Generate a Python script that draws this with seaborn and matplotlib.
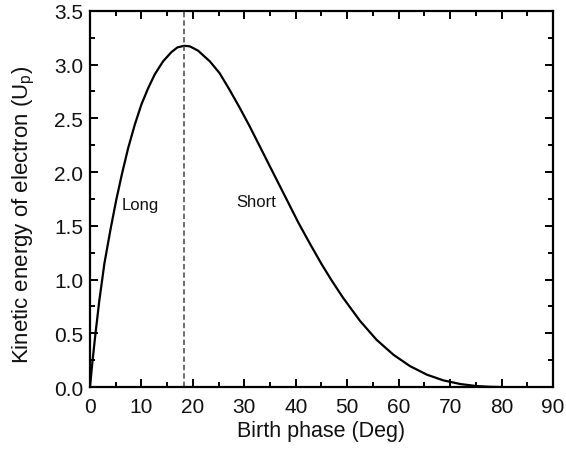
import matplotlib
matplotlib.use("Agg")
import matplotlib.pyplot as plt
from matplotlib.ticker import MultipleLocator, FormatStrFormatter
import pandas as pd
import seaborn as sns

# Returning-electron kinetic energy vs. ionisation (birth) phase
birth_phase_deg = [0, 0.4, 1.0, 1.8, 2.8, 4.0, 5.1, 6.2, 7.4, 8.7, 10.0, 11.3,
                   12.6, 14.2, 15.8, 17.0, 18.3, 19.4, 21.0, 23.3, 25.2, 27.2,
                   29.2, 31.1, 33.0, 35.0, 36.8, 38.6, 40.5, 42.8, 45.0, 47.0,
                   49.2, 52.5, 55.7, 59.0, 62.2, 65.5, 68.7, 72.0, 75.2, 78.0, 80.0]
kinetic_energy_up = [0, 0.2, 0.47, 0.8, 1.15, 1.47, 1.74, 1.98, 2.22, 2.44, 2.63, 2.78,
                     2.91, 3.03, 3.115, 3.16, 3.175, 3.17, 3.13, 3.03, 2.92, 2.76,
                     2.59, 2.42, 2.24, 2.05, 1.88, 1.71, 1.53, 1.33, 1.145, 0.99,
                     0.83, 0.615, 0.44, 0.30, 0.195, 0.115, 0.062, 0.028, 0.009, 0.002, 0]
cutoff_phase_deg = 18.3
branch_labels = ["Long", "Short"]
branch_label_x = [6.2, 28.5]
branch_label_y = [1.70, 1.73]

sns.set_style("ticks")
plt.rcParams["font.family"] = ["Liberation Sans", "DejaVu Sans"]
plt.rcParams["mathtext.fontset"] = "custom"
plt.rcParams["mathtext.rm"] = "Liberation Sans"

df = pd.DataFrame({"phase": birth_phase_deg, "energy": kinetic_energy_up})

fig = plt.figure(figsize=(5.66, 4.56), dpi=100)
ax = fig.add_axes([0.159, 0.149, 0.818, 0.825])

sns.lineplot(data=df, x="phase", y="energy", ax=ax, color="black",
             linewidth=1.6, sort=False)
ax.axvline(cutoff_phase_deg, color="#444444", linewidth=1.1,
           linestyle=(0, (3.5, 2.0)))

for txt, x, y in zip(branch_labels, branch_label_x, branch_label_y):
    ax.text(x, y, txt, fontsize=12, ha="left", va="center", color="#111111")

ax.set_xlim(0, 90)
ax.set_ylim(0, 3.5)
ax.xaxis.set_major_locator(MultipleLocator(10))
ax.xaxis.set_minor_locator(MultipleLocator(5))
ax.yaxis.set_major_locator(MultipleLocator(0.5))
ax.yaxis.set_minor_locator(MultipleLocator(0.25))
ax.yaxis.set_major_formatter(FormatStrFormatter("%.1f"))

ax.tick_params(which="both", direction="in", top=True, right=True,
               width=1.4, labelsize=15, color="black", labelcolor="#111111")
ax.tick_params(axis="x", which="both", pad=7)
ax.tick_params(axis="y", which="both", pad=5)
ax.tick_params(which="major", length=5.5)
ax.tick_params(which="minor", length=3.5)
for s in ax.spines.values():
    s.set_visible(True)
    s.set_linewidth(1.6)
    s.set_color("black")

ax.set_xlabel("Birth phase (Deg)", fontsize=15.5, labelpad=3, color="#111111")
ax.set_ylabel(r"Kinetic energy of electron (U$_\mathregular{p}$)",
              fontsize=16, color="#111111")
ax.yaxis.set_label_coords(-0.114, 0.46)

fig.savefig("out.png", dpi=100)
